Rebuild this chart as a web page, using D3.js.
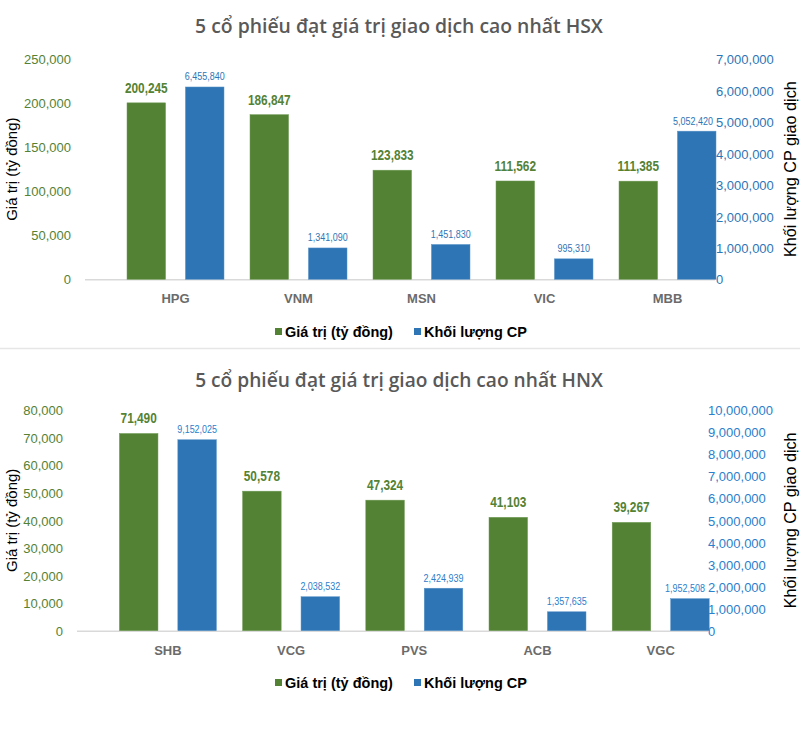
<!DOCTYPE html>
<html><head><meta charset="utf-8">
<script src="https://cdn.jsdelivr.net/npm/d3@7"></script>
<style>html,body{margin:0;padding:0;background:#fff;}svg{display:block;}</style>
</head><body>
<script>
// ---------- DATA ----------
const hsxTitle = "5 cổ phiếu đạt giá trị giao dịch cao nhất HSX";
const hsxCategories = ["HPG", "VNM", "MSN", "VIC", "MBB"];
const hsxValue = [200245, 186847, 123833, 111562, 111385];
const hsxVolume = [6455840, 1341090, 1451830, 995310, 5052420];
const hsxValueTicks = [0, 50000, 100000, 150000, 200000, 250000];
const hsxVolumeTicks = [0, 1000000, 2000000, 3000000, 4000000, 5000000, 6000000, 7000000];
const hsxVolumeBarBase = 345000; // blue bars in the reference start above the axis zero

const hnxTitle = "5 cổ phiếu đạt giá trị giao dịch cao nhất HNX";
const hnxCategories = ["SHB", "VCG", "PVS", "ACB", "VGC"];
const hnxValue = [71490, 50578, 47324, 41103, 39267];
const hnxVolume = [9152025, 2038532, 2424939, 1357635, 1952508];
const hnxValueTicks = [0, 10000, 20000, 30000, 40000, 50000, 60000, 70000, 80000];
const hnxVolumeTicks = [0, 1000000, 2000000, 3000000, 4000000, 5000000, 6000000, 7000000, 8000000, 9000000, 10000000];
const hnxVolumeBarBase = 500000;

const seriesNames = ["Giá trị (tỷ đồng)", "Khối lượng CP"];
const leftAxisTitle = "Giá trị (tỷ đồng)";
const rightAxisTitle = "Khối lượng CP giao dịch";

// ---------- STYLE ----------
const GREEN = "#548235", BLUE = "#2E75B6";
const fmt = d3.format(",");

const svg = d3.select("body").append("svg").attr("width", 800).attr("height", 731);
svg.append("rect").attr("width", 800).attr("height", 731).attr("fill", "#fff");
svg.append("line").attr("x1", 0).attr("x2", 800).attr("y1", 348.5).attr("y2", 348.5)
  .attr("stroke", "#e6e6e6").attr("stroke-width", 1.5);

function fitText(sel, width) {
  const w = sel.node().getComputedTextLength();
  const fs = parseFloat(sel.attr("font-size"));
  sel.attr("font-size", fs * width / w);
}
// condensed label: text drawn at its own origin, then translated + horizontally scaled
function condensed(sel, k, limit) {
  sel.each(function () {
    const s = d3.select(this);
    const w = this.getComputedTextLength() * k;
    let cx = +s.attr("data-cx");
    const cy = +s.attr("data-cy");
    if (limit != null && cx + w / 2 > limit) cx = limit - w / 2;
    s.attr("x", 0).attr("y", 0).attr("transform", `translate(${cx},${cy}) scale(${k},1)`);
  });
}

function drawChart(cfg) {
  const g = svg.append("g");
  // title
  const t = g.append("text").attr("x", cfg.titleX).attr("y", cfg.titleY)
    .attr("text-anchor", "middle").attr("font-family", "Open Sans").attr("font-weight", 600)
    .attr("font-size", 22).attr("fill", "#595959").text(cfg.title);
  fitText(t, 408);

  const yL = d3.scaleLinear().domain([0, d3.max(cfg.valueTicks)]).range([cfg.base, cfg.top]);
  const yR = d3.scaleLinear().domain([0, d3.max(cfg.volumeTicks)]).range([cfg.base, cfg.top]);
  const yRbar = d3.scaleLinear().domain([cfg.volBase, d3.max(cfg.volumeTicks) + cfg.volBase]).range([cfg.base, cfg.top]);
  const x = d3.scaleBand().domain(cfg.categories).range(cfg.xRange).paddingInner(0).paddingOuter(0);
  const xs = d3.scaleBand().domain(["v", "q"]).range([-48.5, 48.5]).paddingInner(0.34).paddingOuter(0);

  // baseline
  g.append("line").attr("x1", cfg.lineX[0]).attr("x2", cfg.lineX[1])
    .attr("y1", cfg.base + 0.5).attr("y2", cfg.base + 0.5).attr("stroke", "#d9d9d9").attr("stroke-width", 1.5);

  // left axis
  const la = g.append("g").attr("transform", `translate(${cfg.leftX},0)`)
    .call(d3.axisLeft(yL).tickValues(cfg.valueTicks).tickFormat(fmt).tickSize(0).tickPadding(0));
  la.select(".domain").remove();
  la.selectAll("text").attr("font-family", "Liberation Sans, Arial").attr("font-size", 13)
    .attr("fill", GREEN).attr("dy", "0.36em");

  // right axis
  const ra = g.append("g").attr("transform", `translate(${cfg.rightX},0)`)
    .call(d3.axisRight(yR).tickValues(cfg.volumeTicks).tickFormat(fmt).tickSize(0).tickPadding(0));
  ra.select(".domain").remove();
  ra.selectAll("text").attr("font-family", "Liberation Sans, Arial").attr("font-size", 13)
    .attr("fill", cfg.blueText).attr("dy", "0.36em");

  // axis titles
  g.append("text").attr("transform", `translate(${cfg.leftTitleX},${(cfg.base + cfg.top) / 2}) rotate(-90)`)
    .attr("text-anchor", "middle").attr("font-family", "Liberation Sans, Arial").attr("font-size", 15)
    .attr("fill", "#000").text(leftAxisTitle);
  g.append("text").attr("transform", `translate(${cfg.rightTitleX},${(cfg.base + cfg.top) / 2}) rotate(-90)`)
    .attr("text-anchor", "middle").attr("font-family", "Liberation Sans, Arial").attr("font-size", 16.2)
    .attr("fill", "#000").text(rightAxisTitle);

  const idx = d3.range(cfg.categories.length);
  const cx = i => x(cfg.categories[i]) + x.bandwidth() / 2;

  // green bars
  g.selectAll(".gv").data(idx).join("rect")
    .attr("x", i => cx(i) + xs("v")).attr("width", xs.bandwidth())
    .attr("y", i => yL(cfg.value[i])).attr("height", i => cfg.base - yL(cfg.value[i]))
    .attr("fill", GREEN).attr("stroke", "#6f9a55").attr("stroke-width", 0.5);
  // blue bars
  g.selectAll(".bq").data(idx).join("rect")
    .attr("x", i => cx(i) + xs("q")).attr("width", xs.bandwidth())
    .attr("y", i => yRbar(cfg.volume[i])).attr("height", i => cfg.base - yRbar(cfg.volume[i]))
    .attr("fill", BLUE).attr("stroke", "#5a93c8").attr("stroke-width", 0.5);

  // value labels
  g.selectAll(".lv").data(idx).join("text")
    .attr("data-cx", i => cx(i) + xs("v") + xs.bandwidth() / 2).attr("data-cy", i => yL(cfg.value[i]) - 10)
    .attr("text-anchor", "middle").attr("font-family", "Liberation Sans, Arial")
    .attr("font-weight", "bold").attr("font-size", 15).attr("fill", GREEN)
    .text(i => fmt(cfg.value[i])).call(condensed, 0.79, null);
  g.selectAll(".lq").data(idx).join("text")
    .attr("data-cx", i => cx(i) + xs("q") + xs.bandwidth() / 2).attr("data-cy", i => yRbar(cfg.volume[i]) - 6.5)
    .attr("text-anchor", "middle").attr("font-family", "Liberation Sans, Arial")
    .attr("font-size", 11.5).attr("fill", cfg.blueText)
    .text(i => fmt(cfg.volume[i])).call(condensed, 0.78, cfg.rightX - 3);

  // category labels
  g.selectAll(".cat").data(idx).join("text")
    .attr("x", i => cx(i)).attr("y", cfg.catY).attr("text-anchor", "middle")
    .attr("font-family", "Liberation Sans, Arial").attr("font-weight", "bold").attr("font-size", 13)
    .attr("fill", "#6b6b6b").text(i => cfg.categories[i]);

  // legend
  const leg = [{ x: 275, c: GREEN, t: seriesNames[0] }, { x: 414, c: BLUE, t: seriesNames[1] }];
  leg.forEach(l => {
    g.append("rect").attr("x", l.x).attr("y", cfg.legY - 8.5).attr("width", 7).attr("height", 7).attr("fill", l.c);
    g.append("text").attr("x", l.x + 10).attr("y", cfg.legY).attr("font-family", "Liberation Sans, Arial")
      .attr("font-weight", "bold").attr("font-size", 14.5).attr("fill", "#000").text(l.t);
  });
}

drawChart({
  title: hsxTitle, titleX: 399, titleY: 33,
  categories: hsxCategories, value: hsxValue, volume: hsxVolume,
  valueTicks: hsxValueTicks, volumeTicks: hsxVolumeTicks, volBase: hsxVolumeBarBase,
  base: 279.3, top: 59, xRange: [114, 729], lineX: [85, 715],
  leftX: 71, rightX: 716, leftTitleX: 17, rightTitleX: 796,
  catY: 303, legY: 336.5, blueText: "#2E75B6"
});
drawChart({
  title: hnxTitle, titleX: 399, titleY: 387,
  categories: hnxCategories, value: hnxValue, volume: hnxVolume,
  valueTicks: hnxValueTicks, volumeTicks: hnxVolumeTicks, volBase: hnxVolumeBarBase,
  base: 630.7, top: 410, xRange: [106.3, 722.3], lineX: [77, 708],
  leftX: 63, rightX: 708, leftTitleX: 17, rightTitleX: 796,
  catY: 655, legY: 687.5, blueText: "#2A80CC"
});
</script>
</body></html>
